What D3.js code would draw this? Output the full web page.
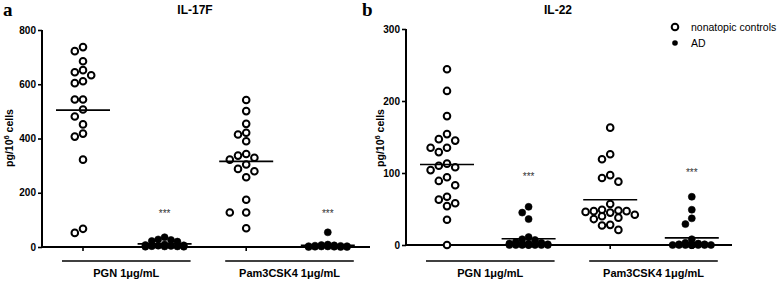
<!DOCTYPE html>
<html>
<head>
<meta charset="utf-8">
<script src="https://cdn.jsdelivr.net/npm/d3@7"></script>
<style>
  body { margin: 0; background: #fff; }
  svg { display: block; font-family: "Liberation Sans", Arial, sans-serif; }
</style>
</head>
<body>
<div id="container"></div>
<script>
// --- Data (pg/10^6 cells) ---
const stimuli = ["PGN 1μg/mL", "Pam3CSK4 1μg/mL"];

// IL-17F
const il17fPgnCtrl = [737, 722, 685, 652, 644, 633, 611, 604, 544, 544, 507, 481, 452, 418, 407, 322, 67, 52];
const il17fPgnAD = [36, 28, 26, 22, 20, 9, 7, 6, 5, 4, 3, 2, 2, 1, 1];
const il17fPamCtrl = [542, 501, 454, 421, 415, 390, 343, 337, 329, 322, 304, 288, 279, 257, 174, 127, 127, 69];
const il17fPamAD = [54, 9, 7, 6, 5, 4, 3, 3, 2, 2, 1, 1, 0, 0, 0];
const il17fTicks = [0, 200, 400, 600, 800];
const il17fStars = [130, 130];

// IL-22
const il22PgnCtrl = [244, 214, 179, 154, 147, 145, 135, 135, 129, 113, 110, 108, 104, 94, 89, 83, 67, 63, 58, 54, 35, 0];
const il22PgnAD = [53, 45, 36, 11, 8, 7, 4, 3, 2, 2, 1, 1, 0, 0, 0, 0, 0, 0, 0, 0];
const il22PamCtrl = [163, 126, 119, 97, 93, 88, 57, 49, 48, 47, 47, 46, 45, 42, 40, 38, 36, 28, 27, 21];
const il22PamAD = [67, 49, 37, 29, 8, 3, 2, 1, 1, 0, 0, 0, 0, 0, 0, 0, 0, 0, 0, 0];
const il22Ticks = [0, 100, 200, 300];
const il22Stars = [97, 103];

const W = 784, H = 281;
const svg = d3.select("#container").append("svg")
  .attr("width", W).attr("height", H);

// greedy column swarm: slots at 0, -1, +1, -2, +2 ... steps
function swarm(values, cx, y, step, maxSlots) {
  const pts = values.map(v => ({ v, y: y(v) })).sort((a, b) => a.y - b.y);
  const placed = [];
  pts.forEach(p => {
    let best = cx, bestD = -1;
    for (let k = 0; k <= 2 * maxSlots; k++) {
      const s = k === 0 ? 0 : (k % 2 ? -Math.ceil(k / 2) : k / 2);
      const x = cx + s * step;
      const dmin = placed.length ? d3.min(placed, q => Math.hypot(q.x - x, q.y - p.y)) : Infinity;
      if (dmin >= step) { best = x; break; }
      if (dmin > bestD) { bestD = dmin; best = x; }
    }
    placed.push({ x: best, y: p.y, v: p.v });
  });
  return placed;
}

function panel(opt) {
  const g = svg.append("g");
  const y = d3.scaleLinear().domain([0, opt.max]).range([opt.y0, opt.y1]);
  const cols = ["pgnCtrl", "pgnAD", "pamCtrl", "pamAD"];
  const x = d3.scalePoint().domain(cols).range([opt.xc0, opt.xc0 + 3 * 81.6]);

  // y axis
  const yAx = g.append("g")
    .attr("transform", `translate(${opt.ax},0)`)
    .call(d3.axisLeft(y).tickValues(opt.ticks).tickSize(4).tickPadding(2).tickFormat(d3.format("d")));
  yAx.select(".domain").attr("stroke", "#000").attr("stroke-width", 2).attr("d", `M0,${opt.y0}V${opt.y1}`);
  yAx.selectAll(".tick line").attr("stroke", "#000").attr("stroke-width", 1.6);
  yAx.selectAll("text").attr("fill", "#000").style("font-size", "10px").style("font-weight", "bold")
    .style("font-family", "Liberation Sans, Arial, sans-serif");

  // x axis: baseline with ticks under the control columns
  g.append("line")
    .attr("x1", opt.ax - 1).attr("x2", opt.axEnd)
    .attr("y1", opt.y0).attr("y2", opt.y0)
    .attr("stroke", "#000").attr("stroke-width", 1.8);
  ["pgnCtrl", "pamCtrl"].forEach(c => {
    g.append("line")
      .attr("x1", x(c)).attr("x2", x(c))
      .attr("y1", opt.y0).attr("y2", opt.y0 + 4)
      .attr("stroke", "#000").attr("stroke-width", 1.6);
  });

  // stimulus brackets and labels
  [["pgnCtrl", "pgnAD"], ["pamCtrl", "pamAD"]].forEach((pair, i) => {
    const xa = x(pair[0]) - 21, xb = x(pair[1]) + 26;
    g.append("line")
      .attr("x1", xa).attr("x2", xb)
      .attr("y1", 261).attr("y2", 261)
      .attr("stroke", "#000").attr("stroke-width", 1.6);
    g.append("text")
      .attr("x", (xa + xb) / 2).attr("y", 277)
      .attr("text-anchor", "middle")
      .style("font-size", "11px").style("font-weight", "bold")
      .text(stimuli[i]);
  });

  // dots
  const series = [
    { key: "pgnCtrl", vals: opt.data[0], open: true },
    { key: "pgnAD", vals: opt.data[1], open: false },
    { key: "pamCtrl", vals: opt.data[2], open: true },
    { key: "pamAD", vals: opt.data[3], open: false },
  ];
  series.forEach(s => {
    const pts = swarm(s.vals, x(s.key), y, s.open ? 8.2 : 6.4, 3);
    g.selectAll(null).data(pts).join("circle")
      .attr("cx", d => d.x).attr("cy", d => d.y)
      .attr("r", s.open ? 3.3 : 3.5)
      .attr("fill", s.open ? "#fff" : "#000")
      .attr("stroke", "#000")
      .attr("stroke-width", s.open ? 2 : 0.6);
    // mean line
    const m = d3.mean(s.vals);
    g.append("line")
      .attr("x1", x(s.key) - 27).attr("x2", x(s.key) + 27)
      .attr("y1", y(m)).attr("y2", y(m))
      .attr("stroke", "#000").attr("stroke-width", 1.6);
  });

  // significance marks
  ["pgnAD", "pamAD"].forEach((c, i) => {
    g.append("text")
      .attr("x", x(c)).attr("y", y(opt.stars[i]) + 5)
      .attr("text-anchor", "middle")
      .attr("fill", "#333")
      .style("font-size", "10px")
      .text("***");
  });

  // y label
  const yl = g.append("text")
    .attr("transform", `translate(${opt.labX},138) rotate(-90)`)
    .attr("text-anchor", "middle")
    .style("font-size", "10.5px").style("font-weight", "bold");
  yl.append("tspan").text("pg/10");
  yl.append("tspan").attr("dy", -4).style("font-size", "7.5px").text("6");
  yl.append("tspan").attr("dy", 4).text(" cells");

  // title and panel letter
  g.append("text")
    .attr("x", opt.titleX).attr("y", 14)
    .attr("text-anchor", "middle")
    .style("font-size", "12px").style("font-weight", "bold")
    .text(opt.title);
  g.append("text")
    .attr("x", opt.letterX).attr("y", 16)
    .style("font-family", "Liberation Serif, Times New Roman, serif")
    .style("font-size", "19px").style("font-weight", "bold")
    .text(opt.letter);
}

panel({
  data: [il17fPgnCtrl, il17fPgnAD, il17fPamCtrl, il17fPamAD],
  max: 800, ticks: il17fTicks, stars: il17fStars,
  y0: 247, y1: 30, ax: 42, axEnd: 370, xc0: 83,
  labX: 13, title: "IL-17F", titleX: 195, letter: "a", letterX: 3
});

panel({
  data: [il22PgnCtrl, il22PgnAD, il22PamCtrl, il22PamAD],
  max: 300, ticks: il22Ticks, stars: il22Stars,
  y0: 245, y1: 29, ax: 406, axEnd: 732, xc0: 447,
  labX: 384, title: "IL-22", titleX: 558, letter: "b", letterX: 362
});

// legend
const leg = svg.append("g");
leg.append("circle").attr("cx", 675).attr("cy", 27).attr("r", 3.3)
  .attr("fill", "#fff").attr("stroke", "#000").attr("stroke-width", 2);
leg.append("circle").attr("cx", 675).attr("cy", 43).attr("r", 2.8).attr("fill", "#000");
leg.append("text").attr("x", 691).attr("y", 31).style("font-size", "10.5px").text("nonatopic controls");
leg.append("text").attr("x", 691).attr("y", 47).style("font-size", "10.5px").text("AD");
</script>
</body>
</html>
